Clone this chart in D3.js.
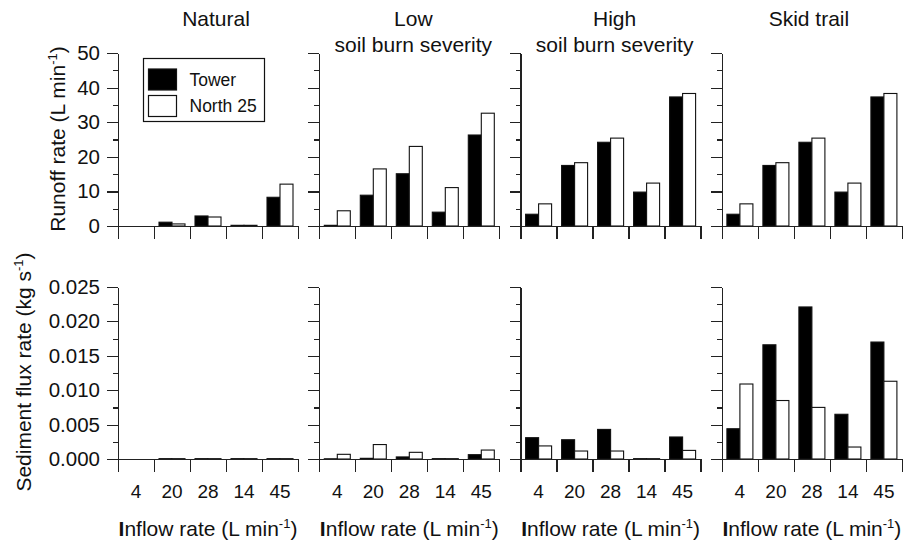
<!DOCTYPE html>
<meta charset="utf-8">
<style>

  body {
    margin: 0;
    background: #fff;
    font-family: "Liberation Sans", Arial, sans-serif;
  }

  .axis path,
  .axis line {
    fill: none;
    stroke: #222;
    stroke-width: 1.2px;
    shape-rendering: crispEdges;
  }

  .axis text {
    font-family: "Liberation Sans", Arial, sans-serif;
    fill: #111;
  }

  .bar {
    stroke: #111;
    stroke-width: 1.1px;
  }

  .title, .label {
    fill: #111;
    font-size: 21px;
  }

</style>
<body>
<script src="https://cdn.jsdelivr.net/npm/d3@7"></script>
<script>

  // Inflow rate categories (L min-1), same order in every panel.
  var categories = ["4", "20", "28", "14", "45"];
  var series = ["Tower", "North 25"];
  var titles = [["Natural"], ["Low", "soil burn severity"], ["High", "soil burn severity"], ["Skid trail"]];

  // Runoff rate (L min-1), one row per panel.
  var runoffTower = [
    [0, 1.1, 2.9, 0.2, 8.3],
    [0.2, 8.9, 15.1, 4.0, 26.3],
    [3.4, 17.5, 24.2, 9.8, 37.3],
    [3.4, 17.5, 24.2, 9.8, 37.3]
  ];
  var runoffNorth25 = [
    [0, 0.6, 2.6, 0.2, 12.1],
    [4.4, 16.5, 23.0, 11.1, 32.6],
    [6.4, 18.3, 25.4, 12.4, 38.3],
    [6.4, 18.3, 25.4, 12.4, 38.3]
  ];

  // Sediment flux rate (kg s-1).
  var sedimentTower = [
    [0, 0.00005, 0.00005, 0.00005, 0.00005],
    [0.00003, 0.0001, 0.0003, 0.00005, 0.00063],
    [0.0031, 0.0028, 0.0043, 0.00005, 0.0032],
    [0.0044, 0.0166, 0.0221, 0.0065, 0.0170]
  ];
  var sedimentNorth25 = [
    [0, 0.00005, 0.00005, 0.00005, 0.00005],
    [0.00068, 0.0021, 0.00097, 0.00005, 0.0013],
    [0.0019, 0.00116, 0.00116, 0.00005, 0.00125],
    [0.0109, 0.0085, 0.0075, 0.00174, 0.0113]
  ];

  var runoffTicks = [0, 10, 20, 30, 40, 50];
  var runoffMinor = [5, 15, 25, 35, 45];
  var sedimentTicks = [0, 0.005, 0.010, 0.015, 0.020, 0.025];
  var sedimentMinor = [0.0025, 0.0075, 0.0125, 0.0175, 0.0225];

  var width = 903, height = 540;
  var panelW = 180, panelStep = 201.3, left = 118;
  var titleShift = [8, 4, 4, -3];

  var svg = d3.select("body").append("svg")
    .attr("width", width)
    .attr("height", height);

  var x = d3.scaleBand().domain(categories).range([0, panelW]);
  var x1 = d3.scaleBand().domain(series).range([5, x.bandwidth() - 5]);
  var edge = d3.scaleLinear().domain([0, categories.length]).range([0, panelW]);

  var rows = [
    {top: 53, bottom: 226, max: 50, ticks: runoffTicks, minor: runoffMinor, fmt: d3.format("d"),
      data: [runoffTower, runoffNorth25]},
    {top: 287, bottom: 459, max: 0.025, ticks: sedimentTicks, minor: sedimentMinor, fmt: d3.format(".3f"),
      data: [sedimentTower, sedimentNorth25]}
  ];

  rows.forEach(function(row, r) {
    var y = d3.scaleLinear().domain([0, row.max]).range([row.bottom, row.top]);

    titles.forEach(function(t, p) {
      var g = svg.append("g")
        .attr("transform", "translate(" + (left + p * panelStep) + ",0)");

      // Bars.
      var groups = g.selectAll(".grp")
        .data(categories)
        .enter().append("g")
        .attr("transform", function(c) { return "translate(" + x(c) + ",0)"; });

      groups.selectAll("rect")
        .data(function(c, i) {
          return series.map(function(s, k) { return {s: s, v: row.data[k][p][i]}; });
        })
        .enter().append("rect")
        .attr("class", "bar")
        .attr("x", function(d) { return x1(d.s); })
        .attr("width", x1.bandwidth())
        .attr("y", function(d) { return y(d.v); })
        .attr("height", function(d) { return y(0) - y(d.v); })
        .attr("fill", function(d) { return d.s === "Tower" ? "#000" : "#fff"; })
        .attr("stroke-opacity", function(d) { return d.v > 0 ? 1 : 0; });

      // Minor y ticks.
      g.append("g")
        .attr("class", "axis")
        .call(d3.axisLeft(y).tickValues(row.minor).tickSize(5).tickSizeOuter(0).tickFormat(""));

      // Major y ticks, labelled in the first column only.
      var ya = g.append("g")
        .attr("class", "axis")
        .call(d3.axisLeft(y).tickValues(row.ticks).tickSize(11).tickSizeOuter(0)
          .tickPadding(7).tickFormat(p === 0 ? row.fmt : ""));
      ya.selectAll("text").style("font-size", "20.5px");

      // X axis with ticks between categories.
      g.append("g")
        .attr("class", "axis")
        .attr("transform", "translate(0," + row.bottom + ")")
        .call(d3.axisBottom(edge).tickValues(d3.range(categories.length + 1)).tickSize(13)
          .tickSizeOuter(0).tickFormat(""));

      if (r === 1) {
        var xa = g.append("g")
          .attr("class", "axis")
          .attr("transform", "translate(0," + row.bottom + ")")
          .call(d3.axisBottom(x).tickSize(0).tickPadding(26));
        xa.select(".domain").remove();
        xa.selectAll("text").style("font-size", "19px");

        var lab = g.append("text")
          .attr("class", "label")
          .attr("x", panelW / 2)
          .attr("y", 536)
          .attr("text-anchor", "middle");
        lab.append("tspan").style("font-weight", "bold").text("I");
        lab.append("tspan").text("nflow rate (L min");
        lab.append("tspan").attr("dy", -8).style("font-size", "13px").text("-1");
        lab.append("tspan").attr("dy", 8).text(")");
      }

      if (r === 0) {
        g.append("text")
          .attr("class", "title")
          .attr("text-anchor", "middle")
          .selectAll("tspan")
          .data(t)
          .enter().append("tspan")
          .attr("x", panelW / 2 + titleShift[p])
          .attr("y", function(d, i) { return 26 + i * 26; })
          .text(function(d) { return d; });
      }
    });
  });

  // Y axis titles.
  function yTitle(txt, unit, cx, cy) {
    var t = svg.append("text")
      .attr("class", "label")
      .attr("text-anchor", "middle")
      .attr("transform", "translate(" + cx + "," + cy + ") rotate(-90)");
    t.append("tspan").text(txt + " (" + unit);
    t.append("tspan").attr("dy", -8).style("font-size", "13px").text("-1");
    t.append("tspan").attr("dy", 8).text(")");
  }
  yTitle("Runoff rate", "L min", 65, 139);
  yTitle("Sediment flux rate", "kg s", 31, 372);

  // Legend.
  var leg = svg.append("g").attr("transform", "translate(143.5,58.5)");
  leg.append("rect")
    .attr("width", 121).attr("height", 63)
    .attr("fill", "#fff").attr("stroke", "#111").attr("stroke-width", 1.2);
  var item = leg.selectAll(".item")
    .data(series)
    .enter().append("g")
    .attr("transform", function(d, i) { return "translate(5," + (10.5 + i * 26.5) + ")"; });
  item.append("rect")
    .attr("width", 28).attr("height", 21)
    .attr("fill", function(d) { return d === "Tower" ? "#000" : "#fff"; })
    .attr("stroke", "#111").attr("stroke-width", 1.2);
  item.append("text")
    .attr("x", 41).attr("y", 16.5)
    .style("font-size", "17.5px").attr("fill", "#111")
    .text(function(d) { return d; });

</script>
